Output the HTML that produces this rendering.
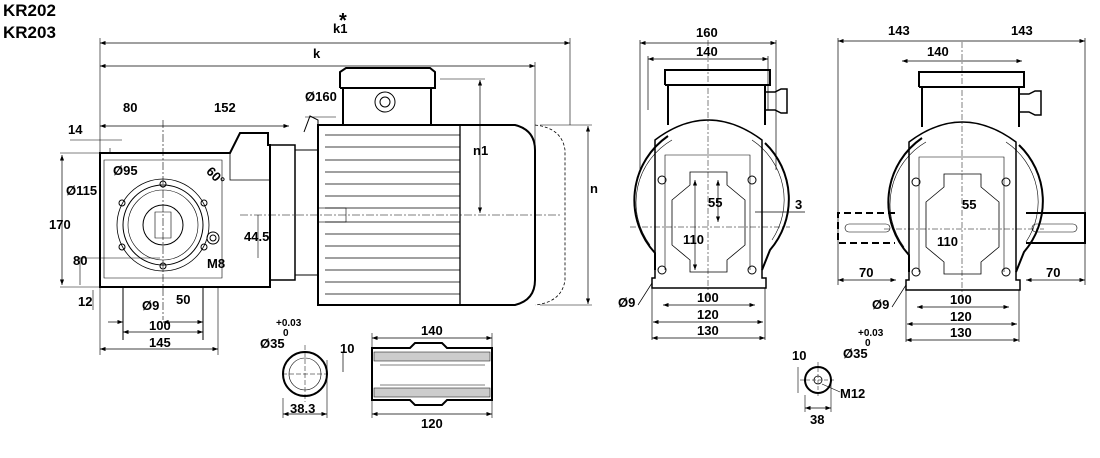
<!DOCTYPE html>
<html><head><meta charset="utf-8"><style>
html,body{margin:0;padding:0;background:#fff;}
svg{display:block;font-family:"Liberation Sans",Arial,sans-serif;font-weight:bold;}
text{font-size:13px;fill:#000;}
</style></head><body>
<svg width="1100" height="458" viewBox="0 0 1100 458" xmlns="http://www.w3.org/2000/svg">
<defs>
<marker id="a" markerWidth="8" markerHeight="6" refX="8" refY="3" orient="auto-start-reverse"><path d="M0,0 L8,3 L0,6z" fill="#000"/></marker>
</defs>
<g stroke="#000" fill="none" stroke-width="1">
<text x="3" y="16" style="font-size:17px" stroke="none">KR202</text>
<text x="3" y="38" style="font-size:17px" stroke="none">KR203</text>

<line x1="100" y1="43" x2="570" y2="43" marker-start="url(#a)" marker-end="url(#a)" stroke-width="0.7"/>
<line x1="100" y1="66" x2="535" y2="66" marker-start="url(#a)" marker-end="url(#a)" stroke-width="0.7"/>
<line x1="100" y1="38" x2="100" y2="355" stroke-width="0.6"/>
<line x1="570" y1="38" x2="570" y2="125" stroke-width="0.6"/>
<line x1="535" y1="62" x2="535" y2="150" stroke-width="0.6"/>
<line x1="100" y1="126" x2="289" y2="126" marker-start="url(#a)" marker-end="url(#a)" stroke-width="0.7"/>
<line x1="163" y1="120" x2="163" y2="320" stroke-dasharray="8,2,2,2" stroke-width="0.6"/>

<path d="M100,153 H230 L240,133 H268 V145 H270 V287 H250 V287 H100 Z" stroke-width="2"/>
<path d="M230,153 V180 H270" stroke-width="0.8"/>
<path d="M104,160 H222 V278 H104Z" stroke-width="0.6"/>
<circle cx="163" cy="225" r="46" stroke-width="0.8"/>
<circle cx="163" cy="225" r="40"/>
<circle cx="163" cy="225" r="35" stroke-width="0.6"/>
<circle cx="163" cy="225" r="20"/>
<path d="M155,212 h16 v26 h-16z" stroke-width="0.6"/>
<circle cx="163" cy="184" r="3"/><circle cx="163" cy="266" r="3"/>
<circle cx="122" cy="203" r="3"/><circle cx="204" cy="203" r="3"/>
<circle cx="122" cy="247" r="3"/><circle cx="204" cy="247" r="3"/>
<circle cx="213" cy="238" r="6"/><circle cx="213" cy="238" r="3"/>
<path d="M270,145 H295 V280 H270" stroke-width="1.5"/>
<path d="M295,150 H318 V275 H295" stroke-width="1"/>
<path d="M304,132 L310,116 L318,120 V132" stroke-width="1"/>

<path d="M318,125 H515 Q535,130 535,150 V280 Q535,300 515,305 H318 Z" stroke-width="2"/>
<line x1="460" y1="125" x2="460" y2="305" stroke-width="1.3"/>
<g stroke-width="0.7">
<line x1="325" y1="135" x2="460" y2="135"/><line x1="325" y1="147" x2="460" y2="147"/><line x1="325" y1="160" x2="460" y2="160"/><line x1="325" y1="172" x2="460" y2="172"/><line x1="325" y1="184" x2="460" y2="184"/><line x1="325" y1="196" x2="460" y2="196"/><line x1="325" y1="208" x2="460" y2="208"/><line x1="325" y1="222" x2="460" y2="222"/><line x1="325" y1="234" x2="460" y2="234"/><line x1="325" y1="246" x2="460" y2="246"/><line x1="325" y1="258" x2="460" y2="258"/><line x1="325" y1="270" x2="460" y2="270"/><line x1="325" y1="282" x2="460" y2="282"/><line x1="325" y1="294" x2="460" y2="294"/>
</g>
<path d="M535,125 Q562,128 565,150 V280 Q562,302 535,305" stroke-dasharray="3,2" stroke-width="0.8"/>
<path d="M340,88 V72 L346,68 H430 L435,72 V88 H340 M343,88 V125 M431,88 V125" stroke-width="2"/>
<circle cx="385" cy="102" r="10"/><circle cx="385" cy="102" r="5"/>
<rect x="318" y="208" width="28" height="14" stroke-width="0.6"/>
<line x1="240" y1="215" x2="560" y2="215" stroke-dasharray="8,2,2,2" stroke-width="0.6"/>
<line x1="480" y1="80" x2="480" y2="213" marker-start="url(#a)" marker-end="url(#a)" stroke-width="0.7"/>
<line x1="440" y1="79" x2="485" y2="79" stroke-width="0.6"/>
<line x1="588" y1="126" x2="588" y2="304" marker-start="url(#a)" marker-end="url(#a)" stroke-width="0.7"/>
<line x1="540" y1="125" x2="592" y2="125" stroke-width="0.5"/><line x1="540" y1="305" x2="592" y2="305" stroke-width="0.5"/>
<line x1="258" y1="215" x2="258" y2="258" stroke-width="0.6"/>
<line x1="305" y1="117" x2="336" y2="117" stroke-width="0.6"/>

<line x1="60" y1="153" x2="100" y2="153" stroke-width="0.5"/><line x1="60" y1="287" x2="100" y2="287" stroke-width="0.5"/>
<line x1="62" y1="155" x2="62" y2="285" marker-start="url(#a)" marker-end="url(#a)" stroke-width="0.7"/>
<line x1="80" y1="258" x2="80" y2="285" stroke-width="0.6"/><line x1="78" y1="258" x2="160" y2="258" stroke-width="0.5"/>
<line x1="93" y1="290" x2="93" y2="310" stroke-width="0.6"/>
<line x1="70" y1="140" x2="122" y2="140" stroke-width="0.6"/><line x1="110" y1="148" x2="110" y2="153" stroke-width="0.6"/>
<line x1="123" y1="287" x2="123" y2="340"/><line x1="203" y1="287" x2="203" y2="340"/>
<line x1="108" y1="322" x2="123" y2="322" marker-end="url(#a)" stroke-width="0.7"/>
<line x1="163" y1="322" x2="203" y2="322" marker-start="url(#a)" marker-end="url(#a)" stroke-width="0.7"/>
<line x1="123" y1="332" x2="203" y2="332" marker-start="url(#a)" marker-end="url(#a)" stroke-width="0.7"/>
<line x1="100" y1="349" x2="218" y2="349" marker-start="url(#a)" marker-end="url(#a)" stroke-width="0.7"/>
<line x1="218" y1="287" x2="218" y2="355" stroke-width="0.6"/>
</g>
<g stroke="none">
<text x="333" y="33">k1</text><text x="339" y="27" style="font-size:20px">*</text>
<text x="313" y="58">k</text>
<text x="123" y="112">80</text><text x="214" y="112">152</text>
<text x="68" y="134">14</text>
<text x="305" y="101">Ø160</text>
<text x="113" y="175">Ø95</text>
<text x="66" y="195">Ø115</text>
<text x="206" y="179" transform="rotate(45 214 175)">60°</text>
<text x="49" y="229">170</text>
<text x="244" y="241">44.5</text>
<text x="73" y="265">80</text>
<text x="207" y="268">M8</text>
<text x="78" y="306">12</text>
<text x="142" y="310">Ø9</text>
<text x="176" y="304">50</text>
<text x="149" y="330">100</text>
<text x="149" y="347">145</text>
<text x="473" y="155">n1</text>
<text x="590" y="193">n</text>
</g>

<g stroke="#000" fill="none" id="fv">
<path d="M665,85 V70 H770 V85 H665 M668,85 V125 M765,85 V125" stroke-width="2"/>
<path d="M765,92 h10 l6,-3 h6 v24 h-6 l-6,-3 h-10" stroke-width="1.5"/>
<path d="M668,136 A78,78 0 0 0 655,253 V270 M765,143 A78,78 0 0 1 770,250 L762,270" stroke-width="2"/>
<path d="M672,140 A72,72 0 0 0 650,245 M752,140 A72,72 0 0 1 772,240" stroke-width="0.6"/>
<path d="M655,278 V140 Q708,100 762,140 V278 H766 V288 H652 V278Z" stroke-width="1.5"/>
<path d="M665,270 V155 H750 V270" stroke-width="0.6"/>
<path d="M690,172 H727 V185 L745,200 V245 L727,260 V272 H690 V260 L672,245 V200 L690,185Z" stroke-width="0.8"/>
<circle cx="662" cy="180" r="4"/><circle cx="752" cy="180" r="4"/><circle cx="662" cy="270" r="4"/><circle cx="752" cy="270" r="4"/>
<line x1="708" y1="40" x2="708" y2="300" stroke-dasharray="6,2,2,2" stroke-width="0.5"/>
<line x1="630" y1="227" x2="790" y2="227" stroke-dasharray="6,2,2,2" stroke-width="0.5"/>
</g>
<use href="#fv" x="254" y="2"/>
<g stroke="#000" fill="none" stroke-width="0.7">
<line x1="640" y1="43" x2="776" y2="43" marker-start="url(#a)" marker-end="url(#a)"/>
<line x1="648" y1="59" x2="768" y2="59" marker-start="url(#a)" marker-end="url(#a)"/>
<line x1="640" y1="40" x2="640" y2="170"/><line x1="776" y1="40" x2="776" y2="170"/>
<line x1="648" y1="56" x2="648" y2="110"/><line x1="768" y1="56" x2="768" y2="110"/>
<line x1="663" y1="305" x2="755" y2="305" marker-start="url(#a)" marker-end="url(#a)"/>
<line x1="653" y1="322" x2="763" y2="322" marker-start="url(#a)" marker-end="url(#a)"/>
<line x1="652" y1="338" x2="765" y2="338" marker-start="url(#a)" marker-end="url(#a)"/>
<line x1="652" y1="288" x2="652" y2="340"/><line x1="765" y1="288" x2="765" y2="340"/>
<line x1="695" y1="180" x2="695" y2="270" marker-start="url(#a)" marker-end="url(#a)"/>
<line x1="718" y1="180" x2="718" y2="222" marker-start="url(#a)" marker-end="url(#a)"/>
<line x1="755" y1="212" x2="805" y2="212"/>
<line x1="652" y1="283" x2="638" y2="305"/>
<line x1="838" y1="41" x2="1085" y2="41" marker-start="url(#a)" marker-end="url(#a)"/>
<line x1="838" y1="38" x2="838" y2="285"/><line x1="1085" y1="38" x2="1085" y2="285"/>
<line x1="902" y1="61" x2="1022" y2="61" marker-start="url(#a)" marker-end="url(#a)"/>
<line x1="838" y1="280" x2="896" y2="280" marker-start="url(#a)" marker-end="url(#a)"/>
<line x1="1026" y1="280" x2="1085" y2="280" marker-start="url(#a)" marker-end="url(#a)"/>
<line x1="917" y1="307" x2="1009" y2="307" marker-start="url(#a)" marker-end="url(#a)"/>
<line x1="907" y1="324" x2="1017" y2="324" marker-start="url(#a)" marker-end="url(#a)"/>
<line x1="906" y1="340" x2="1019" y2="340" marker-start="url(#a)" marker-end="url(#a)"/>
<line x1="906" y1="290" x2="906" y2="342"/><line x1="1019" y1="290" x2="1019" y2="342"/>
<line x1="906" y1="285" x2="892" y2="307"/>
</g>
<path d="M895,213 H838 V243 H895" stroke="#000" fill="none" stroke-width="2" stroke-dasharray="7,4"/>
<path d="M1026,213 H1085 V243 H1026" stroke="#000" fill="none" stroke-width="2"/>
<rect x="845" y="224" width="45" height="8" rx="4" stroke="#000" fill="none" stroke-width="0.6"/>
<rect x="1032" y="224" width="45" height="8" rx="4" stroke="#000" fill="none" stroke-width="0.6"/>
<g stroke="none">
<text x="696" y="37">160</text><text x="696" y="56">140</text>
<text x="708" y="207">55</text><text x="683" y="244">110</text><text x="795" y="209">3</text>
<text x="618" y="307">Ø9</text><text x="697" y="302">100</text><text x="697" y="319">120</text><text x="697" y="335">130</text>
<text x="888" y="35">143</text><text x="1011" y="35">143</text><text x="927" y="56">140</text>
<text x="962" y="209">55</text><text x="937" y="246">110</text>
<text x="859" y="277">70</text><text x="1046" y="277">70</text>
<text x="872" y="309">Ø9</text><text x="950" y="304">100</text><text x="950" y="321">120</text><text x="950" y="337">130</text>
</g>

<g stroke="#000" fill="none">
<circle cx="305" cy="374" r="22" stroke-width="2"/>
<circle cx="305" cy="374" r="16" stroke-width="0.6"/>
<line x1="305" y1="345" x2="305" y2="402" stroke-width="0.5" stroke-dasharray="5,2"/>
<line x1="282" y1="374" x2="328" y2="374" stroke-width="0.5" stroke-dasharray="5,2"/>
<line x1="283" y1="398" x2="283" y2="418" stroke-width="0.6"/><line x1="327" y1="360" x2="327" y2="418" stroke-width="0.6"/>
<line x1="283" y1="414" x2="327" y2="414" stroke-width="0.7" marker-start="url(#a)" marker-end="url(#a)"/>
<line x1="343" y1="352" x2="343" y2="372" stroke-width="0.7"/>
<path d="M372,348 H410 L415,343 H442 L447,348 H492 V400 H447 L442,405 H415 L410,400 H372 Z" stroke-width="2"/>
<rect x="374" y="352" width="116" height="9" stroke-width="0.5" fill="#ccc"/>
<rect x="374" y="388" width="116" height="9" stroke-width="0.5" fill="#ccc"/>
<line x1="380" y1="365" x2="485" y2="365" stroke-width="0.5"/><line x1="380" y1="385" x2="485" y2="385" stroke-width="0.5"/>
<line x1="372" y1="338" x2="492" y2="338" stroke-width="0.7" marker-start="url(#a)" marker-end="url(#a)"/>
<line x1="372" y1="333" x2="372" y2="348" stroke-width="0.6"/><line x1="492" y1="333" x2="492" y2="348" stroke-width="0.6"/>
<line x1="372" y1="414" x2="492" y2="414" stroke-width="0.7" marker-start="url(#a)" marker-end="url(#a)"/>
<line x1="372" y1="400" x2="372" y2="418" stroke-width="0.6"/><line x1="492" y1="400" x2="492" y2="418" stroke-width="0.6"/>
<circle cx="818" cy="380" r="13" stroke-width="2"/>
<circle cx="818" cy="380" r="4" stroke-width="0.8"/>
<line x1="818" y1="362" x2="818" y2="398" stroke-width="0.5" stroke-dasharray="4,2"/>
<line x1="800" y1="380" x2="836" y2="380" stroke-width="0.5" stroke-dasharray="4,2"/>
<line x1="805" y1="395" x2="805" y2="412" stroke-width="0.6"/><line x1="831" y1="380" x2="831" y2="412" stroke-width="0.6"/>
<line x1="805" y1="408" x2="831" y2="408" stroke-width="0.7" marker-start="url(#a)" marker-end="url(#a)"/>
<line x1="798" y1="367" x2="798" y2="393" stroke-width="0.6"/>
<line x1="822" y1="384" x2="840" y2="392" stroke-width="0.6"/>
</g>
<g stroke="none">
<text x="276" y="326" style="font-size:10px">+0.03</text><text x="283" y="336" style="font-size:10px">0</text>
<text x="260" y="348">Ø35</text><text x="340" y="353">10</text><text x="290" y="413">38.3</text>
<text x="421" y="335">140</text><text x="421" y="428">120</text>
<text x="858" y="336" style="font-size:10px">+0.03</text><text x="865" y="346" style="font-size:10px">0</text>
<text x="843" y="358">Ø35</text><text x="792" y="360">10</text><text x="840" y="398">M12</text><text x="810" y="424">38</text>
</g>
</svg>
</body></html>
